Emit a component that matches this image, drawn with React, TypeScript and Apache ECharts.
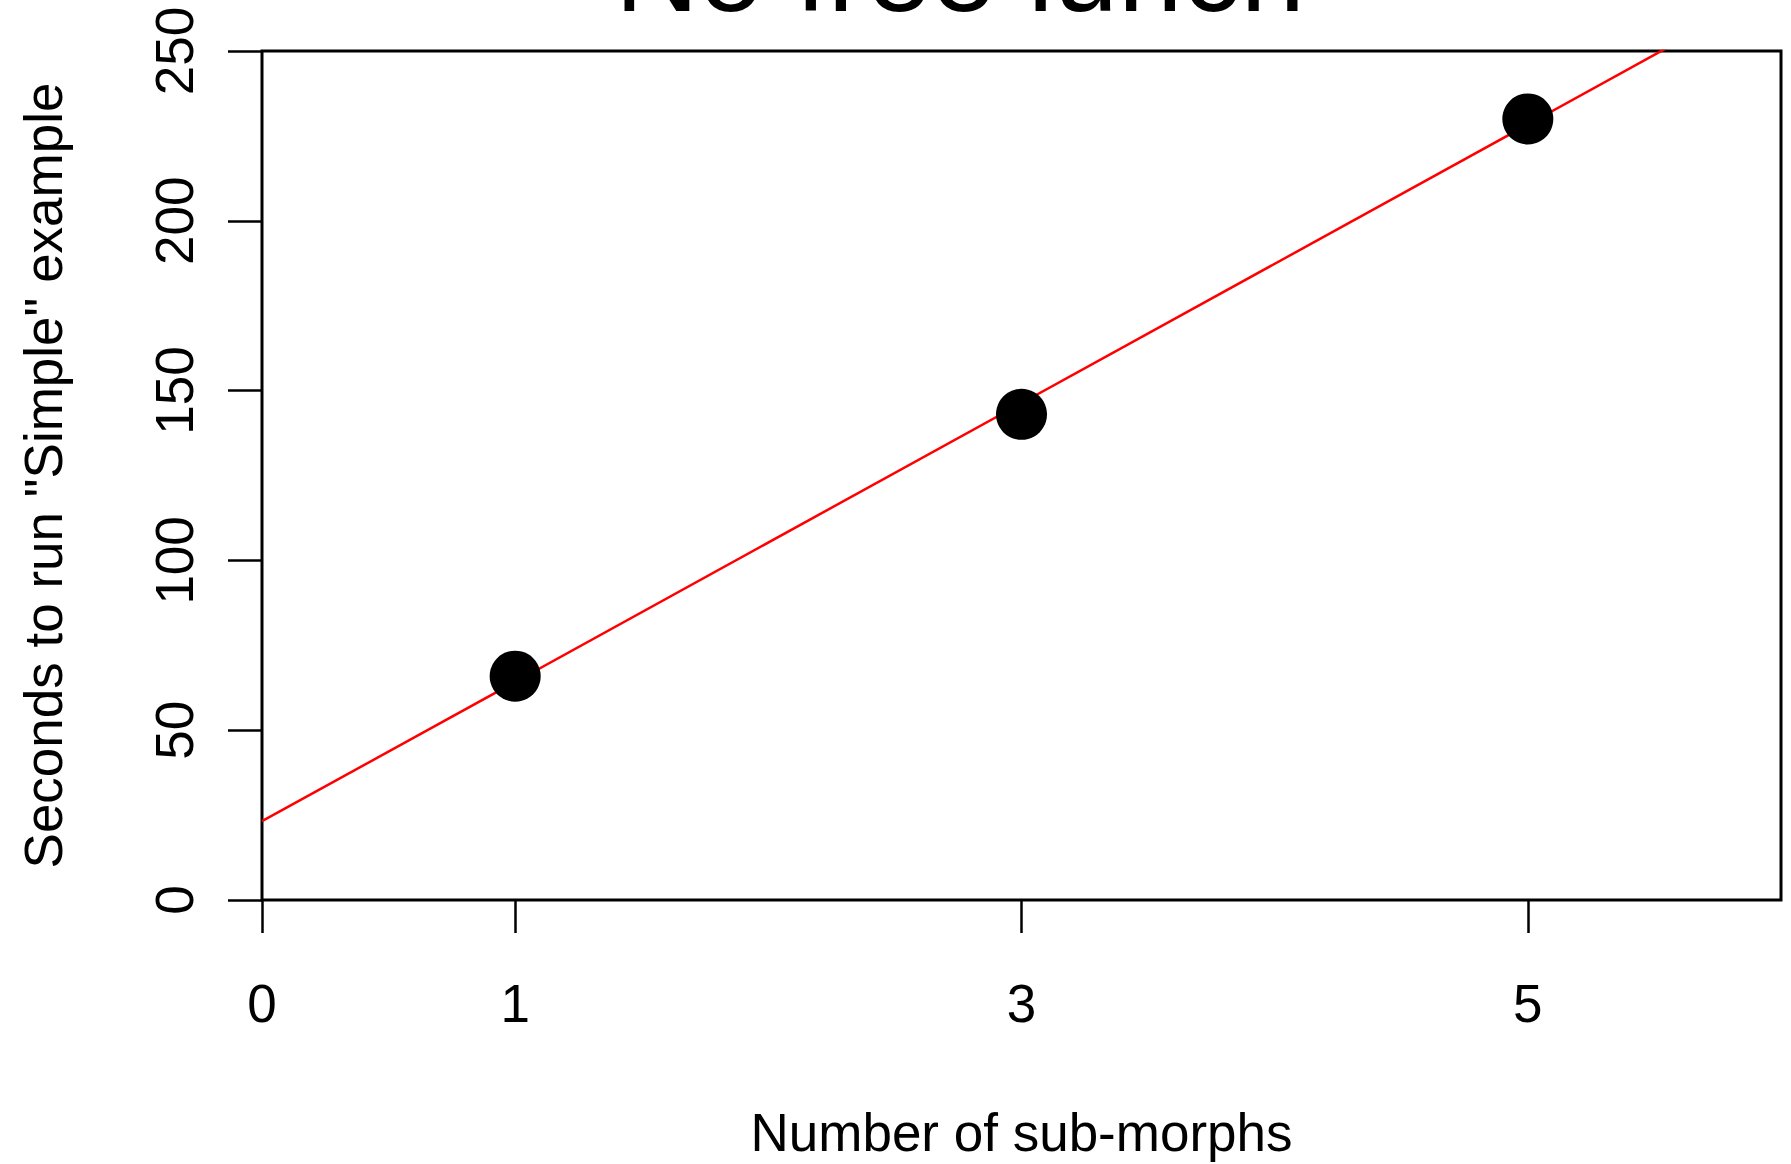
import React, { useEffect, useRef } from "react";
import * as echarts from "echarts";

const titleText = "No free lunch";
const xAxisName = "Number of sub-morphs";
const yAxisName = 'Seconds to run "Simple" example';

const xTicks = [0, 1, 3, 5];
const pointX = [1, 3, 5];
const pointY = [65.9, 143.0, 230.0];
const fitX = [0, 6];
const fitY = [23.2, 269.4];

const FONT = '"Liberation Sans", Arial, Helvetica, sans-serif';

export default function App() {
  const ref = useRef<HTMLDivElement>(null);
  useEffect(() => {
    if (!ref.current) return;
    const chart = echarts.init(ref.current, null, { renderer: "svg" });
    chart.setOption({
      animation: false,
      backgroundColor: "#ffffff",
      textStyle: { fontFamily: FONT },
      graphic: [
        {
          type: "text",
          x: 960,
          y: -29,
          style: {
            text: titleText,
            fontSize: 116,
            fontFamily: FONT,
            fill: "#000",
            textAlign: "center",
            textVerticalAlign: "middle",
          },
        },
      ],
      grid: {
        left: 262,
        right: 10,
        top: 51,
        bottom: 262,
        show: true,
        borderColor: "#000",
        borderWidth: 3,
        containLabel: false,
      },
      xAxis: {
        type: "value",
        min: 0,
        max: 6,
        name: xAxisName,
        nameLocation: "middle",
        nameGap: 206,
        nameTextStyle: { fontSize: 53, color: "#000", fontFamily: FONT },
        axisLine: { show: false },
        splitLine: { show: false },
        axisTick: {
          show: true,
          inside: false,
          length: 33,
          lineStyle: { color: "#000", width: 2.5 },
          customValues: xTicks,
        },
        axisLabel: {
          show: true,
          fontSize: 53,
          color: "#000",
          fontFamily: FONT,
          margin: 77,
          customValues: xTicks,
        },
      },
      yAxis: {
        type: "value",
        min: 0,
        max: 250,
        interval: 50,
        name: yAxisName,
        nameLocation: "middle",
        nameGap: 192,
        nameRotate: 90,
        nameTextStyle: { fontSize: 53, color: "#000", fontFamily: FONT },
        axisLine: { show: false },
        splitLine: { show: false },
        axisTick: {
          show: true,
          inside: false,
          length: 34,
          lineStyle: { color: "#000", width: 2.5 },
        },
        axisLabel: {
          show: true,
          rotate: 90,
          fontSize: 53,
          color: "#000",
          fontFamily: FONT,
          margin: 61,
        },
      },
      series: [
        {
          type: "line",
          data: fitX.map((x, i) => [x, fitY[i]]),
          showSymbol: false,
          symbol: "none",
          clip: true,
          lineStyle: { color: "#ff0000", width: 2.5 },
          silent: true,
          z: 2,
        },
        {
          type: "scatter",
          data: pointX.map((x, i) => [x, pointY[i]]),
          symbol: "circle",
          symbolSize: 51,
          itemStyle: { color: "#000000", opacity: 1 },
          z: 3,
        },
      ],
    });
    return () => chart.dispose();
  }, []);
  return (
    <div
      ref={ref}
      style={{ position: "fixed", left: 0, top: 0, width: 1791, height: 1164 }}
    />
  );
}
